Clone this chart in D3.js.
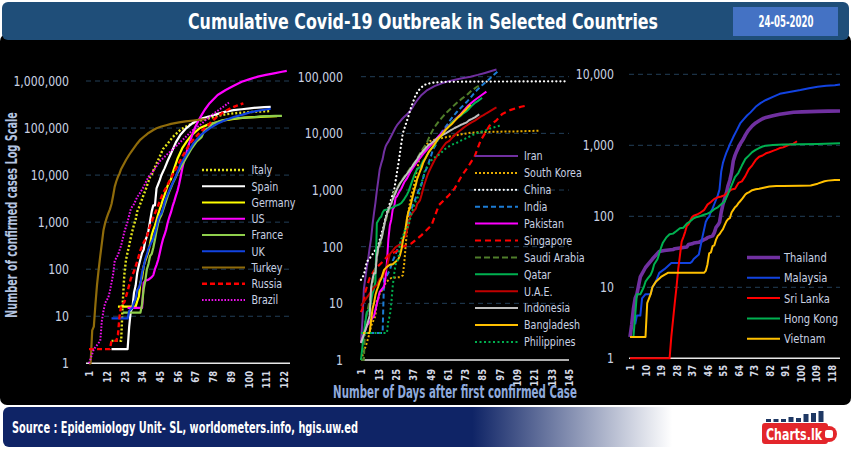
<!DOCTYPE html>
<html>
<head>
<meta charset="utf-8">
<script src="https://cdn.jsdelivr.net/npm/d3@7"></script>
<style>
html, body { margin: 0; padding: 0; background: #fff; }
svg text { font-family: 'Liberation Sans Narrow', 'DejaVu Sans Condensed', 'Arial Narrow', sans-serif; font-stretch: condensed; }
</style>
</head>
<body>
<div id="chart"></div>
<script>
// ---- data: [day after first case, cumulative cases] ----
// left panel
var italy = [[15,3],[21,3],[22,20],[23,79],[24,157],[25,229],[26,323],[27,470],[28,655],[29,889],[30,1128],[31,1694],[32,2036],[33,2502],[34,3089],[35,3858],[36,4636],[37,5883],[38,7375],[39,9172],[40,10149],[41,12462],[43,17660],[45,24747],[47,35713],[50,47021],[53,63927],[55,74386],[58,92472],[61,105792],[65,124632],[71,147577],[76,162488],[81,181228],[86,195351],[91,205463],[96,211938],[101,219070],[106,223885],[110,226699],[114,229327]];
var spain = [[15,2],[25,2],[26,6],[27,13],[28,15],[29,32],[30,45],[31,84],[32,120],[33,165],[34,222],[35,259],[36,400],[37,500],[38,673],[39,1073],[40,1695],[41,2277],[42,2277],[43,5232],[44,6391],[45,7798],[46,9942],[47,11748],[48,13910],[50,20410],[52,28768],[55,49515],[58,73235],[61,95923],[66,131646],[71,158273],[76,177633],[81,200210],[86,223759],[91,239639],[96,250561],[101,262783],[106,272646],[110,278803],[114,281904]];
var germany = [[19,16],[30,16],[31,21],[32,26],[33,53],[34,66],[35,117],[36,150],[37,188],[38,240],[39,349],[40,534],[41,684],[42,847],[43,1112],[44,1460],[45,1884],[46,2369],[47,3062],[48,3795],[49,4838],[50,6012],[51,7156],[52,8198],[53,10999],[54,13957],[56,22213],[59,37323],[62,53340],[65,71808],[70,100123],[75,118235],[80,130072],[85,145184],[90,155193],[95,163009],[100,168162],[105,171324],[110,174975],[114,177778],[118,179713]];
var us = [[25,15],[34,15],[35,51],[36,57],[38,60],[40,68],[41,75],[42,100],[43,124],[44,158],[45,221],[46,319],[47,435],[48,541],[49,704],[50,994],[51,1301],[52,1630],[53,2183],[54,2770],[55,3613],[56,4596],[57,6344],[58,9197],[59,13779],[60,19367],[61,24192],[62,33592],[63,43781],[64,54856],[65,68211],[66,85435],[67,104126],[69,142460],[71,188172],[73,244877],[76,337635],[81,502876],[86,644089],[91,792759],[96,960896],[101,1095023],[106,1237633],[111,1347881],[116,1457593],[121,1571617],[124,1645094]];
var france = [[22,12],[33,12],[34,18],[35,38],[36,57],[37,100],[38,130],[39,191],[40,212],[41,285],[42,423],[43,653],[44,949],[45,1209],[46,1412],[47,1784],[48,2281],[49,2876],[50,3661],[51,4499],[52,5423],[53,6633],[54,7730],[55,9134],[56,10995],[57,12612],[59,16689],[62,25233],[65,37575],[68,52128],[71,64338],[73,92839],[75,98010],[78,124869],[83,143303],[88,155383],[93,161488],[98,167178],[103,169462],[108,176970],[113,178870],[117,180809],[121,182219]];
var uk = [[15,9],[25,9],[26,13],[28,15],[29,20],[30,23],[31,36],[32,40],[33,51],[34,85],[35,115],[36,163],[37,206],[38,273],[39,321],[40,382],[41,456],[42,590],[43,798],[44,1140],[45,1391],[46,1543],[47,1950],[48,2626],[49,3269],[50,3983],[52,5683],[55,9529],[58,17089],[61,25150],[66,47806],[71,73758],[76,98476],[81,124743],[86,148377],[91,171253],[96,190584],[101,215260],[106,233151],[111,248293],[114,257154]];
var turkey = [[1,1],[2,1],[3,5],[4,6],[5,18],[6,47],[7,98],[8,191],[9,359],[10,670],[11,947],[12,1236],[13,1529],[14,1872],[15,2433],[16,3629],[17,5698],[18,7402],[19,9217],[20,10827],[21,13531],[22,15679],[24,20921],[26,27069],[28,34109],[31,47029],[33,56956],[36,69392],[38,78546],[41,90980],[43,98674],[46,107773],[49,114653],[52,122392],[57,131744],[61,138657],[66,144749],[70,150593],[74,155686]];
var russia = [[1,2],[14,2],[15,3],[18,3],[19,4],[20,10],[21,17],[23,20],[25,34],[27,63],[29,90],[31,147],[33,253],[35,367],[37,495],[39,840],[41,1264],[43,1836],[45,2777],[47,4149],[49,5389],[51,7497],[53,10131],[55,13584],[57,18328],[59,24490],[61,32008],[63,42853],[65,52763],[67,62773],[69,74588],[71,87147],[73,99399],[75,114431],[77,134687],[79,155370],[81,177160],[83,198676],[85,221344],[87,242271],[89,262843],[91,281752],[93,299941],[95,317554],[97,335882]];
var brazil = [[1,1],[4,2],[8,3],[9,8],[10,13],[11,19],[13,25],[14,34],[15,52],[16,77],[17,151],[19,200],[21,321],[23,621],[25,1021],[27,1924],[29,2433],[31,3417],[33,4309],[35,5717],[38,9194],[41,12232],[45,19638],[50,28320],[55,40743],[60,59324],[65,87187],[70,115455],[75,162699],[80,220291],[85,291579],[88,347398]];

// middle panel
var iran = [[1,2],[2,5],[3,18],[4,28],[5,43],[6,61],[7,95],[8,139],[9,245],[10,388],[11,593],[12,978],[13,1501],[14,2336],[15,2922],[16,3513],[17,4747],[18,5823],[19,6566],[20,7161],[21,8042],[22,9000],[23,10075],[24,11364],[25,12729],[26,13938],[27,14991],[29,17361],[31,19644],[33,21638],[35,24811],[37,29406],[39,35408],[41,41495],[43,47593],[47,58226],[52,68192],[57,76389],[62,83505],[67,89328],[72,94640],[77,99970],[82,107603],[87,116635],[92,126949],[95,133521]];
var southKorea = [[1,1],[5,2],[7,3],[8,4],[11,6],[12,11],[13,12],[14,15],[17,19],[18,23],[21,27],[22,28],[28,29],[29,30],[30,31],[31,51],[32,104],[33,204],[34,433],[35,602],[36,833],[37,977],[38,1261],[39,1766],[40,2337],[41,3150],[42,3736],[43,4335],[44,5186],[45,5621],[46,6088],[47,6593],[48,7041],[49,7314],[50,7478],[51,7513],[52,7755],[53,7869],[54,7979],[56,8162],[61,8652],[66,9137],[72,9786],[77,10237],[82,10450],[92,10674],[102,10765],[112,10874],[125,11165]];
var china = [[1,26],[3,32],[5,54],[7,62],[10,80],[13,107],[16,200],[19,400],[22,700],[24,1000],[27,3000],[30,10000],[33,17000],[36,30000],[39,48000],[42,62000],[45,72000],[50,78000],[57,81000],[80,82000],[145,83000]];
var india = [[1,3],[16,3],[17,28],[19,31],[21,39],[23,56],[25,73],[27,102],[29,119],[31,156],[33,249],[35,396],[37,536],[39,727],[41,987],[43,1251],[45,1998],[47,2567],[49,3588],[51,5194],[53,6412],[55,8446],[57,10541],[59,12380],[61,14378],[63,17265],[65,20080],[67,23077],[69,26283],[71,29451],[73,33050],[75,37336],[77,42533],[79,49400],[81,56342],[83,62939],[85,70756],[87,78003],[89,85940],[91,96169],[93,106750],[95,118447],[97,131868]];
var pakistan = [[1,2],[5,4],[10,6],[14,16],[17,20],[18,28],[19,53],[20,136],[21,236],[22,299],[23,454],[24,501],[25,730],[26,776],[27,875],[28,972],[29,1063],[31,1373],[33,1625],[35,2039],[37,2450],[40,3157],[45,4601],[50,6383],[55,8991],[60,12227],[65,16473],[70,21501],[75,30334],[80,38799],[85,48091],[88,54601]];
var singapore = [[1,7],[2,8],[4,16],[7,28],[11,41],[16,54],[20,71],[25,81],[30,100],[36,114],[43,160],[50,240],[55,540],[62,810],[66,1070],[71,1800],[75,2500],[80,4000],[84,7500],[87,10000],[90,13500],[95,17000],[99,22000],[105,26000],[112,29500],[116,31000]];
var saudiArabia = [[1,1],[3,1],[4,5],[7,11],[8,15],[9,20],[11,45],[13,86],[14,103],[15,118],[16,171],[17,238],[18,274],[19,344],[20,392],[21,511],[22,562],[23,767],[24,900],[25,1012],[27,1203],[29,1453],[31,1720],[33,2039],[35,2402],[37,2795],[39,3287],[41,4033],[43,4934],[45,5862],[47,7142],[49,9362],[51,11631],[53,13930],[55,16299],[57,18811],[59,21402],[61,24097],[63,27011],[65,30251],[67,33731],[69,37136],[71,41014],[73,44830],[75,49176],[77,54752],[79,59854],[81,65077],[83,70161]];
var qatar = [[1,1],[3,3],[5,7],[7,8],[9,15],[10,18],[11,24],[12,262],[14,320],[15,337],[16,401],[17,439],[19,452],[21,470],[23,494],[25,526],[27,549],[29,590],[31,693],[33,835],[34,949],[36,1325],[38,1832],[40,2376],[42,2512],[44,3231],[46,3711],[48,4663],[50,5448],[52,6015],[54,7764],[56,8525],[58,10287],[60,11921],[62,13409],[64,15551],[66,17142],[68,18890],[70,20201],[72,22520],[74,24306],[76,27272],[78,30972],[80,34425],[82,37097],[84,40481],[85,42213]];
var uae = [[1,9],[10,19],[12,21],[14,27],[16,29],[19,45],[21,74],[23,85],[25,98],[29,113],[30,140],[32,153],[33,198],[34,248],[35,333],[37,405],[39,468],[40,570],[41,611],[42,664],[43,814],[44,1024],[45,1264],[46,1505],[47,1799],[48,2076],[50,2659],[52,3360],[54,4123],[56,4933],[58,5825],[60,6781],[62,7265],[64,8238],[66,9281],[68,10349],[70,11380],[72,12481],[74,13599],[76,14730],[78,15738],[80,16793],[82,18198],[84,19661],[86,20986],[88,22627],[90,24190],[92,25963],[94,27892],[95,28704]];
var indonesia = [[1,2],[5,4],[7,6],[8,19],[9,27],[10,34],[11,34],[12,69],[13,96],[14,117],[15,134],[16,172],[17,227],[18,309],[19,369],[20,450],[21,514],[22,579],[23,686],[24,790],[25,893],[26,1046],[27,1155],[28,1285],[29,1414],[30,1528],[32,1790],[34,2092],[36,2491],[38,2956],[40,3512],[42,4241],[44,4839],[46,5516],[48,6248],[50,6760],[52,7418],[54,8211],[56,8882],[58,9511],[60,10118],[62,10843],[64,11587],[66,12438],[68,13112],[70,14032],[72,14749],[74,15438],[76,17025],[78,18010],[80,19189],[82,20796],[83,21745]];
var bangladesh = [[1,3],[7,3],[8,5],[9,8],[10,10],[11,14],[12,17],[13,20],[14,24],[15,27],[17,39],[19,44],[21,48],[23,49],[25,54],[27,61],[28,70],[29,88],[30,123],[31,164],[32,218],[33,330],[34,424],[35,482],[36,621],[37,803],[38,1012],[39,1231],[40,1572],[41,1838],[42,2144],[43,2456],[44,2948],[46,3772],[48,4689],[50,5416],[52,6462],[54,7667],[56,8790],[58,10143],[60,11719],[62,13134],[64,14657],[66,16660],[68,18863],[70,20995],[72,23870],[74,26738],[76,30205],[77,32078]];
var philippines = [[1,3],[19,3],[20,5],[21,6],[22,10],[23,20],[24,33],[25,49],[26,52],[27,64],[28,111],[29,140],[30,142],[31,187],[32,202],[33,217],[34,230],[35,307],[36,380],[37,462],[38,552],[39,636],[40,707],[41,803],[42,1075],[43,1418],[44,1546],[45,2084],[47,2633],[49,3094],[51,3660],[53,3870],[55,4195],[57,4648],[59,5223],[61,5660],[63,6087],[65,6459],[67,6710],[69,7192],[71,7579],[73,7958],[75,8488],[77,8928],[79,9485],[81,10004],[83,10463],[85,10794],[87,11086],[89,11618],[91,12305],[93,12718],[95,13221],[97,13597],[98,13777]];

// right panel
var thailand = [[1,2],[2,3],[3,5],[4,7],[5,8],[7,14],[10,19],[14,25],[18,32],[21,33],[26,34],[27,35],[34,37],[35,40],[37,41],[38,42],[41,43],[44,47],[45,48],[46,50],[49,53],[50,59],[51,70],[52,75],[53,82],[54,114],[55,147],[56,177],[57,212],[58,272],[59,322],[60,411],[61,599],[62,721],[63,827],[64,934],[65,1045],[66,1136],[67,1245],[68,1388],[69,1524],[70,1651],[72,1875],[74,2067],[76,2220],[78,2369],[80,2473],[84,2613],[88,2733],[92,2826],[96,2922],[101,2960],[110,3009],[116,3025],[123,3040]];
var malaysia = [[4,3],[5,4],[7,4],[8,7],[10,8],[13,8],[14,10],[16,12],[18,16],[21,18],[25,22],[36,22],[37,23],[38,25],[41,29],[43,50],[45,83],[46,93],[47,99],[48,117],[49,129],[50,149],[52,197],[53,238],[54,428],[55,566],[56,673],[57,790],[58,900],[59,1030],[61,1306],[63,1624],[65,2031],[67,2320],[69,2626],[71,2908],[74,3483],[77,3963],[80,4346],[84,4817],[88,5305],[92,5532],[96,5780],[100,6002],[105,6353],[110,6656],[115,6872],[120,7009],[123,7185]];
var sriLanka = [[1,1],[24,1],[25,2],[27,6],[28,10],[29,18],[30,28],[31,44],[32,51],[33,60],[34,73],[35,77],[36,87],[37,97],[38,102],[40,106],[42,113],[44,122],[46,146],[48,159],[50,176],[52,185],[54,190],[56,199],[58,218],[60,238],[62,244],[64,295],[66,310],[68,368],[70,460],[72,523],[74,619],[76,690],[78,718],[80,771],[82,797],[84,835],[86,869],[88,915],[90,935],[92,981],[94,1028],[96,1055],[98,1141]];
var hongKong = [[1,2],[3,2],[5,8],[7,8],[9,10],[10,12],[11,13],[13,15],[14,17],[15,21],[17,25],[19,36],[20,42],[22,50],[24,56],[26,57],[28,62],[30,68],[32,69],[34,79],[36,85],[38,94],[40,98],[42,101],[44,105],[46,109],[48,115],[50,126],[52,134],[54,148],[56,162],[58,208],[60,273],[62,356],[64,410],[66,518],[68,641],[70,715],[72,802],[74,862],[76,915],[78,961],[80,989],[84,1012],[90,1026],[100,1038],[110,1047],[123,1066]];
var vietnam = [[1,2],[10,2],[11,6],[13,8],[14,10],[16,12],[19,14],[21,15],[23,16],[44,16],[45,17],[46,21],[47,30],[48,31],[49,38],[50,39],[51,47],[52,53],[53,56],[54,61],[55,66],[56,75],[57,85],[58,91],[59,94],[60,113],[61,123],[62,134],[63,141],[64,153],[65,163],[66,174],[67,188],[68,203],[69,212],[70,218],[72,233],[74,240],[76,245],[78,251],[80,257],[82,262],[86,268],[90,268],[100,270],[106,271],[110,288],[114,312],[116,318],[120,324],[123,325]];

// tick values
var leftDays = [1,12,23,34,45,56,67,78,89,100,111,122];
var midDays = [1,13,25,37,49,61,73,85,97,109,121,133,145];
var rightDays = [1,10,19,28,37,46,55,64,73,82,91,100,109,118];
var leftCases = [1,10,100,1000,10000,100000,1000000];
var midCases = [1,10,100,1000,10000,100000];
var rightCases = [1,10,100,1000,10000];

// ---- styles ----
var style = {
  "Italy":        {c:"#e2e21a", w:2.4, d:"2,2"},
  "Spain":        {c:"#ffffff", w:2.2},
  "Germany":      {c:"#ffff00", w:2.2},
  "US":           {c:"#ff00ff", w:2.2},
  "France":       {c:"#8fcf4c", w:2.2},
  "UK":           {c:"#1243e0", w:2.2},
  "Turkey":       {c:"#8f6b0a", w:2.2},
  "Russia":       {c:"#ff0000", w:2.4, d:"5,3"},
  "Brazil":       {c:"#ee10ee", w:2, d:"1.6,1.6"},
  "Iran":         {c:"#7030a0", w:2},
  "South Korea":  {c:"#e8ac00", w:2, d:"2,2"},
  "China":        {c:"#ffffff", w:2.2, d:"0.1,4", cap:"round"},
  "India":        {c:"#1c7cd5", w:2, d:"5,3"},
  "Pakistan":     {c:"#ff00ff", w:2},
  "Singapore":    {c:"#ff0000", w:2.2, d:"6,4"},
  "Saudi Arabia": {c:"#4f7d2a", w:2, d:"6,3"},
  "Qatar":        {c:"#00b050", w:2},
  "U.A.E.":       {c:"#c00000", w:2},
  "Indonesia":    {c:"#bfbfbf", w:2},
  "Bangladesh":   {c:"#ffc000", w:2},
  "Philippines":  {c:"#00b050", w:2, d:"2,2.5"},
  "Thailand":     {c:"#7030a0", w:3.6},
  "Malaysia":     {c:"#1243e0", w:2},
  "Sri Lanka":    {c:"#ff0000", w:2},
  "Hong Kong":    {c:"#00b050", w:2},
  "Vietnam":      {c:"#ffc000", w:2}
};

var svg = d3.select("#chart").append("svg")
    .attr("width", 851)
    .attr("height", 450);

var defs = svg.append("defs");
var grad = defs.append("linearGradient").attr("id", "footGrad")
    .attr("gradientUnits", "userSpaceOnUse")
    .attr("x1", 0).attr("x2", 851).attr("y1", 0).attr("y2", 0);
grad.append("stop").attr("offset", 0).attr("stop-color", "#0f2466");
grad.append("stop").attr("offset", 0.555).attr("stop-color", "#0f2466");
grad.append("stop").attr("offset", 0.79).attr("stop-color", "#ffffff");
grad.append("stop").attr("offset", 1).attr("stop-color", "#ffffff");

// squeeze text horizontally to mimic the narrow font
function squeeze(sel, k) {
  sel.each(function() {
    var n = this.getComputedTextLength();
    d3.select(this).attr("textLength", n * k).attr("lengthAdjust", "spacingAndGlyphs");
  });
}

// black body
svg.append("rect").attr("x", 0).attr("y", 34).attr("width", 851).attr("height", 371)
    .attr("rx", 7).attr("fill", "#000");

// header
svg.append("rect").attr("x", 2).attr("y", 2).attr("width", 847).attr("height", 38)
    .attr("rx", 6).attr("fill", "#1f4e79");
svg.append("rect").attr("x", 733).attr("y", 7).attr("width", 105).attr("height", 29)
    .attr("fill", "#4472c4");
svg.append("text").attr("x", 423).attr("y", 29).attr("text-anchor", "middle")
    .attr("fill", "#fff").attr("font-size", 21).attr("font-weight", "bold")
    .attr("textLength", 470).attr("lengthAdjust", "spacingAndGlyphs")
    .text("Cumulative Covid-19  Outbreak in Selected Countries");
svg.append("text").attr("x", 786).attr("y", 27).attr("text-anchor", "middle")
    .attr("fill", "#fff").attr("font-size", 15).attr("font-weight", "bold")
    .attr("textLength", 55).attr("lengthAdjust", "spacingAndGlyphs")
    .text("24-05-2020");

// footer
svg.append("rect").attr("x", 3).attr("y", 407).attr("width", 845).attr("height", 40)
    .attr("rx", 6).attr("fill", "url(#footGrad)");
svg.append("text").attr("x", 12).attr("y", 433).attr("fill", "#fff")
    .attr("font-size", 15).attr("font-weight", "bold")
    .attr("textLength", 346).attr("lengthAdjust", "spacingAndGlyphs")
    .text("Source : Epidemiology Unit- SL, worldometers.info, hgis.uw.ed");

// charts.lk logo
var logoBars = [3, 3, 3, 5, 4, 8, 9, 11];
svg.append("g").selectAll("rect").data(logoBars).enter().append("rect")
    .attr("x", function(d, i) { return 766 + i * 7.5; })
    .attr("y", function(d) { return 422 - d; })
    .attr("width", 5).attr("height", function(d) { return d; })
    .attr("fill", "#1f3864");
svg.append("rect").attr("x", 762).attr("y", 423).attr("width", 66).attr("height", 21)
    .attr("rx", 3).attr("fill", "#e3262b");
svg.append("circle").attr("cx", 829).attr("cy", 434).attr("r", 8).attr("fill", "#e3262b");
svg.append("rect").attr("x", 825).attr("y", 430).attr("width", 8).attr("height", 8)
    .attr("rx", 2).attr("fill", "#fff");
svg.append("text").attr("x", 766).attr("y", 440).attr("fill", "#fff")
    .attr("font-size", 15).attr("font-weight", "bold")
    .attr("textLength", 56).attr("lengthAdjust", "spacingAndGlyphs")
    .text("Charts.lk");

// ---- panels ----
function drawPanel(p) {
  var g = svg.append("g");
  var x = d3.scaleLinear().domain(p.xDomain).range(p.xRange);
  var y = d3.scaleLog().domain(p.yDomain).range(p.yRange);

  // dashed grid
  g.selectAll(".grid").data(p.yTicks.slice(1)).enter().append("line")
      .attr("x1", p.grid[0]).attr("x2", p.grid[1])
      .attr("y1", function(d) { return y(d); })
      .attr("y2", function(d) { return y(d); })
      .attr("stroke", "#223e57").attr("stroke-width", 1)
      .attr("stroke-dasharray", "5,4");

  // base line
  g.append("line").attr("x1", p.grid[0]).attr("x2", p.grid[1])
      .attr("y1", y(1)).attr("y2", y(1))
      .attr("stroke", "#e8e8e8").attr("stroke-width", 1.5);

  // y labels
  var ya = g.append("g").attr("transform", "translate(" + p.yLabelX + ",0)")
      .call(d3.axisLeft(y).tickValues(p.yTicks).tickFormat(d3.format(",")).tickSize(0).tickPadding(0));
  ya.select(".domain").remove();
  ya.selectAll("text").attr("fill", "#c9d2e3").attr("font-size", 13.5)
      .style("font-family", null);
  squeeze(ya.selectAll("text"), 0.9);

  // x labels
  var xa = g.append("g").attr("transform", "translate(0," + p.xLabelY + ")")
      .call(d3.axisBottom(x).tickValues(p.xTicks).tickSize(0).tickPadding(0));
  xa.select(".domain").remove();
  xa.selectAll("text").attr("transform", "rotate(-90)")
      .attr("text-anchor", "end").attr("x", 0).attr("y", 0).attr("dy", "0.35em")
      .attr("fill", "#d6dbe6").attr("font-size", 11).attr("font-weight", "bold");
  squeeze(xa.selectAll("text"), 0.85);

  var line = d3.line()
      .x(function(d) { return x(d[0]); })
      .y(function(d) { return y(d[1]); });

  g.selectAll(".series").data(p.series).enter().append("path")
      .attr("d", function(s) { return line(s.data); })
      .attr("fill", "none")
      .attr("stroke", function(s) { return style[s.name].c; })
      .attr("stroke-width", function(s) { return style[s.name].w; })
      .attr("stroke-dasharray", function(s) { return style[s.name].d || null; })
      .attr("stroke-linecap", function(s) { return style[s.name].cap || "butt"; })
      .attr("stroke-linejoin", "round");

  // legend
  var lg = g.selectAll(".leg").data(p.series).enter().append("g")
      .attr("transform", function(s, i) { return "translate(0," + (p.leg.y0 + i * p.leg.dy) + ")"; });
  lg.append("line").attr("x1", p.leg.x1).attr("x2", p.leg.x2)
      .attr("stroke", function(s) { return style[s.name].c; })
      .attr("stroke-width", function(s) { return style[s.name].w; })
      .attr("stroke-dasharray", function(s) { return style[s.name].d || null; })
      .attr("stroke-linecap", function(s) { return style[s.name].cap || "butt"; });
  var lt = lg.append("text").attr("x", p.leg.tx).attr("dy", "0.35em")
      .attr("fill", "#c9d2e3").attr("font-size", p.leg.fs)
      .text(function(s) { return s.name; });
  squeeze(lt, 0.85);
}

drawPanel({
  xDomain: [1, 126], xRange: [89, 290],
  yDomain: [1, 1000000], yRange: [363.3, 81],
  grid: [86, 290], yLabelX: 69, xLabelY: 371,
  xTicks: leftDays, yTicks: leftCases,
  leg: {x1: 202, x2: 245, tx: 251.5, y0: 170, dy: 16.25, fs: 12.5},
  series: [
    {name: "Italy", data: italy}, {name: "Spain", data: spain},
    {name: "Germany", data: germany}, {name: "US", data: us},
    {name: "France", data: france}, {name: "UK", data: uk},
    {name: "Turkey", data: turkey}, {name: "Russia", data: russia},
    {name: "Brazil", data: brazil}
  ]
});

drawPanel({
  xDomain: [1, 146], xRange: [361, 570],
  yDomain: [1, 100000], yRange: [360, 76.7],
  grid: [361, 569], yLabelX: 343, xLabelY: 369,
  xTicks: midDays, yTicks: midCases,
  leg: {x1: 475, x2: 518, tx: 524, y0: 156, dy: 16.9, fs: 12.5},
  series: [
    {name: "Iran", data: iran}, {name: "South Korea", data: southKorea},
    {name: "China", data: china}, {name: "India", data: india},
    {name: "Pakistan", data: pakistan}, {name: "Singapore", data: singapore},
    {name: "Saudi Arabia", data: saudiArabia}, {name: "Qatar", data: qatar},
    {name: "U.A.E.", data: uae}, {name: "Indonesia", data: indonesia},
    {name: "Bangladesh", data: bangladesh}, {name: "Philippines", data: philippines}
  ]
});

drawPanel({
  xDomain: [1, 123], xRange: [630, 840],
  yDomain: [1, 10000], yRange: [358.3, 74.3],
  grid: [629, 840], yLabelX: 614, xLabelY: 365,
  xTicks: rightDays, yTicks: rightCases,
  leg: {x1: 747, x2: 780, tx: 784, y0: 257.5, dy: 20.3, fs: 13},
  series: [
    {name: "Thailand", data: thailand}, {name: "Malaysia", data: malaysia},
    {name: "Sri Lanka", data: sriLanka}, {name: "Hong Kong", data: hongKong},
    {name: "Vietnam", data: vietnam}
  ]
});

// axis titles (compressed with a scale so the box matches what is drawn)
var yTitle = svg.append("text")
    .attr("text-anchor", "middle").attr("fill", "#b4c4e0")
    .attr("font-size", 16).attr("font-weight", "bold")
    .text("Number of confirmed cases Log Scale");
var yTitleLen = yTitle.node().getComputedTextLength();
yTitle.attr("transform", "translate(17,215) rotate(-90) scale(" + (206 / yTitleLen) + ",1)");

var xTitle = svg.append("text")
    .attr("text-anchor", "middle").attr("fill", "#8faadc")
    .attr("font-size", 18).attr("font-weight", "bold")
    .text("Number of Days after first confirmed Case");
var xTitleLen = xTitle.node().getComputedTextLength();
xTitle.attr("transform", "translate(455,398) scale(" + (244 / xTitleLen) + ",1)");
</script>
</body>
</html>
